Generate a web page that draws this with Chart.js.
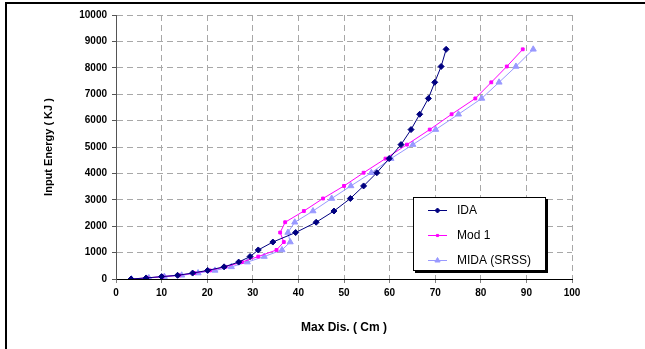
<!DOCTYPE html>
<html>
<head>
<meta charset="utf-8">
<script src="https://cdn.jsdelivr.net/npm/chart.js@4.4.1/dist/chart.umd.min.js"></script>
<style>
    body { margin: 0; background: #fff; }
    #wrap { position: relative; width: 645px; height: 349px; }
</style>
</head>
<body>
<div id="wrap"><canvas id="myChart" width="645" height="349"></canvas></div>
<script>
// 입력 에너지 (KJ) - 세 시리즈 공통
const energy = [0, 40, 90, 140, 225, 325, 460, 640, 850, 1100, 1400, 1760, 2150, 2575, 3050, 3525, 4025, 4560, 5090, 5660, 6240, 6840, 7450, 8050, 8700];
// 최대 변위 (Cm)
const idaDisp = [3.3, 6.6, 10.0, 13.5, 16.8, 20.1, 23.7, 26.9, 29.4, 31.2, 34.4, 39.4, 43.9, 47.8, 51.4, 54.3, 57.2, 59.9, 62.5, 64.7, 66.6, 68.5, 69.9, 71.3, 72.4];
const mod1Disp = [3.3, 6.8, 10.2, 13.8, 17.2, 20.6, 24.0, 27.6, 31.2, 35.2, 36.8, 36.0, 37.1, 41.2, 45.4, 50.0, 54.3, 59.1, 63.8, 68.8, 73.6, 78.8, 82.3, 85.7, 89.2];
const midaDisp = [3.4, 7.2, 10.6, 14.4, 18.0, 21.7, 25.3, 28.8, 32.5, 36.4, 38.2, 37.7, 39.2, 43.2, 47.3, 51.5, 56.0, 60.3, 65.1, 70.1, 75.1, 80.2, 84.0, 87.7, 91.5];
const seriesNames = ['IDA', 'Mod 1', 'MIDA (SRSS)'];

const toPoints = (xs) => xs.map((x, i) => ({ x: x, y: energy[i] }));

// 바깥 테두리 (위, 왼쪽만)
const frame = {
    id: 'frame',
    beforeDraw(chart) {
        const ctx = chart.ctx;
        ctx.save();
        ctx.fillStyle = '#fff';
        ctx.fillRect(0, 0, chart.width, chart.height);
        ctx.fillStyle = '#000';
        ctx.fillRect(5, 2, 2, chart.height - 2);
        ctx.fillRect(5, 2, chart.width - 5, 2);
        ctx.restore();
    }
};

// 차트 안쪽 범례 상자
const legendBox = {
    id: 'legendBox',
    afterDraw(chart) {
        const ctx = chart.ctx;
        const bx = 413, by = 197, bw = 133, bh = 74;
        ctx.save();
        ctx.fillStyle = '#000';
        ctx.fillRect(bx + 2, by + 2, bw, bh); // 그림자
        ctx.fillStyle = '#fff';
        ctx.fillRect(bx, by, bw, bh);
        ctx.strokeStyle = '#000';
        ctx.lineWidth = 1;
        ctx.strokeRect(bx + 0.5, by + 0.5, bw - 1, bh - 1);
        chart.data.datasets.forEach((ds, i) => {
            const y = 210.5 + i * 25;
            ctx.strokeStyle = ds.borderColor;
            ctx.lineWidth = 1;
            ctx.beginPath();
            ctx.moveTo(428, y);
            ctx.lineTo(447, y);
            ctx.stroke();
            ctx.fillStyle = ds.backgroundColor;
            Chart.helpers.drawPoint(ctx, {
                pointStyle: ds.pointStyle,
                radius: ds.pointRadius - 0.5,
                borderWidth: 1,
                rotation: 0
            }, 437.5, y);
            ctx.fillStyle = '#000';
            ctx.font = '12px "Liberation Sans", Arial, sans-serif';
            ctx.textBaseline = 'middle';
            ctx.textAlign = 'left';
            ctx.fillText(ds.label, 457, y);
        });
        ctx.restore();
    }
};

const cht = document.getElementById('myChart');

const chart = new Chart(cht, {
    type: 'scatter',
    data: {
        datasets: [{
            label: seriesNames[0],
            data: toPoints(idaDisp),
            showLine: true,
            borderColor: '#000080',
            backgroundColor: '#000080',
            borderWidth: 1,
            pointStyle: 'rectRot',
            pointRadius: 3,
            pointBorderWidth: 1
        }, {
            label: seriesNames[1],
            data: toPoints(mod1Disp),
            showLine: true,
            borderColor: '#ff00ff',
            backgroundColor: '#ff00ff',
            borderWidth: 1,
            pointStyle: 'rect',
            pointRadius: 2,
            pointBorderWidth: 1
        }, {
            label: seriesNames[2],
            data: toPoints(midaDisp),
            showLine: true,
            borderColor: '#9999ff',
            backgroundColor: '#9999ff',
            borderWidth: 1,
            pointStyle: 'triangle',
            pointRadius: 3.5,
            pointBorderWidth: 1
        }]
    },
    options: {
        responsive: false,
        animation: false,
        layout: {
            padding: { left: 6, right: 73, top: 15, bottom: 0 }
        },
        scales: {
            x: {
                type: 'linear',
                min: 0,
                max: 100,
                afterFit: (scale) => { scale.height = 70; },
                ticks: {
                    stepSize: 10,
                    color: '#000',
                    padding: 4,
                    font: { family: '"Liberation Sans", Arial, sans-serif', size: 10, weight: 'bold' }
                },
                grid: {
                    color: '#a8a8a8',
                    lineWidth: 1,
                    tickLength: 4,
                    tickColor: '#808080',
                    tickBorderDash: []
                },
                border: { color: '#000', width: 1, dash: [6, 4] },
                title: {
                    display: true,
                    text: 'Max Dis. ( Cm )',
                    color: '#000',
                    padding: { top: 0, bottom: 14 },
                    font: { family: '"Liberation Sans", Arial, sans-serif', size: 12, weight: 'bold' }
                }
            },
            y: {
                type: 'linear',
                min: 0,
                max: 10000,
                afterFit: (scale) => { scale.width = 110; },
                ticks: {
                    stepSize: 1000,
                    color: '#000',
                    padding: 5,
                    callback: (v) => String(v), // 콤마 없이
                    font: { family: '"Liberation Sans", Arial, sans-serif', size: 10, weight: 'bold' }
                },
                grid: {
                    color: '#a8a8a8',
                    lineWidth: 1,
                    tickLength: 4,
                    tickColor: '#555',
                    tickBorderDash: []
                },
                border: { color: '#555', width: 1, dash: [6, 4] },
                title: {
                    display: true,
                    text: 'Input Energy ( KJ )',
                    color: '#000',
                    padding: { top: 36, bottom: 0 },
                    font: { family: '"Liberation Sans", Arial, sans-serif', size: 11, weight: 'bold' }
                }
            }
        },
        plugins: {
            legend: { display: false },
            tooltip: { enabled: false }
        }
    },
    plugins: [frame, legendBox]
});
</script>
</body>
</html>
